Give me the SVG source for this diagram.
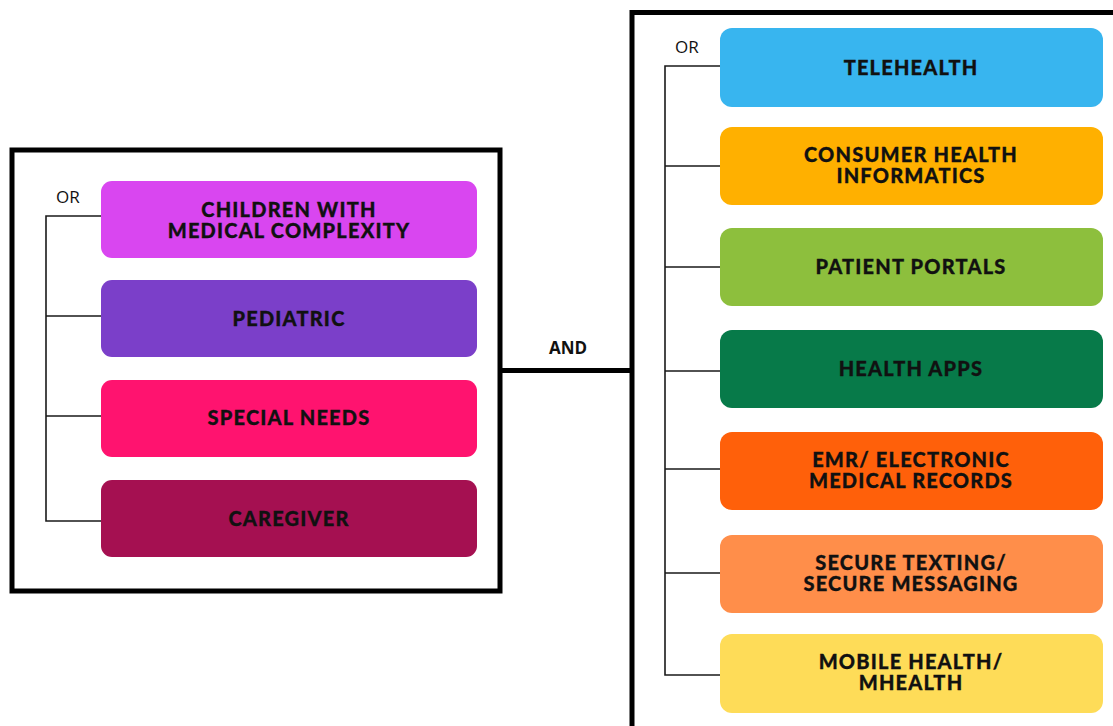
<svg xmlns="http://www.w3.org/2000/svg" width="1113" height="726" viewBox="0 0 1113 726">
  <style>
    .frame { fill: none; stroke: #000; stroke-width: 5; }
    .bus { fill: none; stroke: #1a1a1a; stroke-width: 1.6; }
    .and { fill: none; stroke: #000; stroke-width: 5; }
    .box { stroke: none; }
    .lbl { font-family: Lato, "Open Sans", sans-serif; font-weight: 900; font-size: 20px; letter-spacing: 1.2px; fill: #111; stroke: #111; stroke-width: 0.3; text-anchor: middle; }
    .op { font-family: "Open Sans", "Noto Sans", sans-serif; font-size: 17px; fill: #111; }
    .opb { font-family: "Open Sans", "Noto Sans", sans-serif; font-weight: 700; font-size: 17px; fill: #111; text-anchor: middle; }
  </style>
  <rect width="1113" height="726" fill="#ffffff"/>

  <!-- grouping frames -->
  <g id="frames">
    <rect class="frame" x="12" y="150" width="488" height="441"/>
    <path class="frame" d="M1113 12.5 H632 V726"/>
  </g>

  <!-- connectors -->
  <g id="connectors">
    <path class="and" d="M500 370.5 H632"/>
    <path class="bus" d="M101 216 H46 V521 H101 M46 316 H101 M46 416 H101"/>
    <path class="bus" d="M720 66 H665 V675 H720 M665 166 H720 M665 267 H720 M665 371 H720 M665 469 H720 M665 573 H720"/>
    <text class="op" x="56" y="203">OR</text>
    <text class="op" x="675" y="53">OR</text>
    <text class="opb" x="568" y="354">AND</text>
  </g>

  <!-- population terms -->
  <g id="n-children">
    <rect class="box" x="101" y="181" width="376" height="77" rx="11" fill="#D946F0"/>
    <text class="lbl" x="289" y="217">CHILDREN WITH<tspan x="289" dy="21">MEDICAL COMPLEXITY</tspan></text>
  </g>
  <g id="n-pediatric">
    <rect class="box" x="101" y="280" width="376" height="77" rx="11" fill="#7B3FC9"/>
    <text class="lbl" x="289" y="326">PEDIATRIC</text>
  </g>
  <g id="n-special">
    <rect class="box" x="101" y="380" width="376" height="77" rx="11" fill="#FF136F"/>
    <text class="lbl" x="289" y="425">SPECIAL NEEDS</text>
  </g>
  <g id="n-caregiver">
    <rect class="box" x="101" y="480" width="376" height="77" rx="11" fill="#A51051"/>
    <text class="lbl" x="289" y="526">CAREGIVER</text>
  </g>

  <!-- technology terms -->
  <g id="n-telehealth">
    <rect class="box" x="720" y="28" width="383" height="79" rx="12" fill="#38B5EF"/>
    <text class="lbl" x="911" y="75">TELEHEALTH</text>
  </g>
  <g id="n-consumer">
    <rect class="box" x="720" y="127" width="383" height="78" rx="12" fill="#FFB000"/>
    <text class="lbl" x="911" y="162">CONSUMER HEALTH<tspan x="911" dy="21">INFORMATICS</tspan></text>
  </g>
  <g id="n-portals">
    <rect class="box" x="720" y="228" width="383" height="78" rx="12" fill="#8DBF3D"/>
    <text class="lbl" x="911" y="274">PATIENT PORTALS</text>
  </g>
  <g id="n-apps">
    <rect class="box" x="720" y="330" width="383" height="78" rx="12" fill="#077A49"/>
    <text class="lbl" x="911" y="376">HEALTH APPS</text>
  </g>
  <g id="n-emr">
    <rect class="box" x="720" y="432" width="383" height="78" rx="12" fill="#FF600A"/>
    <text class="lbl" x="911" y="467">EMR/ ELECTRONIC<tspan x="911" dy="21">MEDICAL RECORDS</tspan></text>
  </g>
  <g id="n-texting">
    <rect class="box" x="720" y="535" width="383" height="78" rx="12" fill="#FF8E4A"/>
    <text class="lbl" x="911" y="570">SECURE TEXTING/<tspan x="911" dy="21">SECURE MESSAGING</tspan></text>
  </g>
  <g id="n-mobile">
    <rect class="box" x="720" y="634" width="383" height="79" rx="12" fill="#FEDC58"/>
    <text class="lbl" x="911" y="669">MOBILE HEALTH/<tspan x="911" dy="21">MHEALTH</tspan></text>
  </g>
</svg>
